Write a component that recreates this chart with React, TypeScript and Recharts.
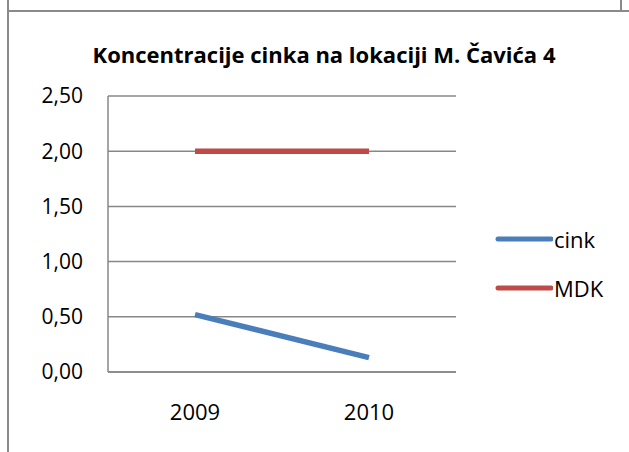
import React from 'react';
import { LineChart, Line, XAxis, YAxis, CartesianGrid, Legend } from 'recharts';

const years = ['2009', '2010'];
const cink = [0.52, 0.13];
const mdk = [2.0, 2.0];
const yTicks = [0, 0.5, 1, 1.5, 2, 2.5];
const seriesOrder = ['cink', 'MDK'];

const data = years.map((year, i) => ({ year, cink: cink[i], MDK: mdk[i] }));

const font = '"Open Sans", sans-serif';

// legend drawn from the library payload, kept in series order
const renderLegend = (props: any) => {
  const payload = [...(props.payload || [])].sort(
    (a: any, b: any) => seriesOrder.indexOf(a.value) - seriesOrder.indexOf(b.value)
  );
  return (
    <div style={{ fontFamily: font, width: 112 }}>
      {payload.map((entry: any) => (
        <div key={entry.value} style={{ display: 'flex', alignItems: 'center', height: 49 }}>
          <svg width={58} height={10}>
            <line x1={3} y1={5} x2={56} y2={5} stroke={entry.color} strokeWidth={5} strokeLinecap="round" />
          </svg>
          <span style={{ fontSize: 22, color: '#000', marginLeft: 1 }}>{entry.value}</span>
        </div>
      ))}
    </div>
  );
};

const App: React.FC = () => {
  return (
    <div style={{ position: 'absolute', left: 0, top: 0, width: 629, height: 452, background: '#fff', overflow: 'hidden' }}>
      <div style={{ position: 'absolute', left: 7, top: 0, width: 2, height: 452, background: '#8a8a8a' }} />
      <div style={{ position: 'absolute', left: 7, top: 10, width: 622, height: 2, background: '#8a8a8a' }} />
      <div style={{ position: 'absolute', left: 620, top: 0, width: 2, height: 11, background: '#8a8a8a' }} />
      <div style={{ position: 'absolute', left: 0, top: 39, width: 648, textAlign: 'center', fontFamily: font, fontWeight: 700, fontSize: 22, color: '#000' }}>
        Koncentracije cinka na lokaciji M. Čavića 4
      </div>
      <div style={{ position: 'absolute', left: 0, top: 0 }}>
        <LineChart width={629} height={452} data={data} margin={{ top: 96, right: 61, bottom: 50, left: 0 }}>
          <CartesianGrid vertical={false} stroke="#878787" strokeWidth={1.5} />
          <XAxis
            dataKey="year"
            height={30}
            padding={{ left: 87, right: 87 }}
            axisLine={{ stroke: '#878787', strokeWidth: 1.5 }}
            tickLine={false}
            tickSize={0}
            tickMargin={32}
            tick={{ fontFamily: font, fontSize: 22, fill: '#000' }}
          />
          <YAxis
            width={108}
            domain={[0, 2.5]}
            ticks={yTicks}
            axisLine={{ stroke: '#878787', strokeWidth: 1.5 }}
            tickLine={false}
            tickSize={0}
            tickMargin={25}
            tickFormatter={(v: number) => v.toFixed(2).replace('.', ',')}
            tick={{ fontFamily: font, fontSize: 21, fill: '#000' }}
          />
          <Legend
            layout="vertical"
            align="right"
            verticalAlign="middle"
            content={renderLegend}
            wrapperStyle={{ right: 22, top: 214, width: 112 }}
          />
          <Line dataKey="cink" stroke="#4a7ebb" strokeWidth={5.5} dot={false} isAnimationActive={false} />
          <Line dataKey="MDK" stroke="#be4b48" strokeWidth={5.5} dot={false} isAnimationActive={false} />
        </LineChart>
      </div>
    </div>
  );
};

export default App;
